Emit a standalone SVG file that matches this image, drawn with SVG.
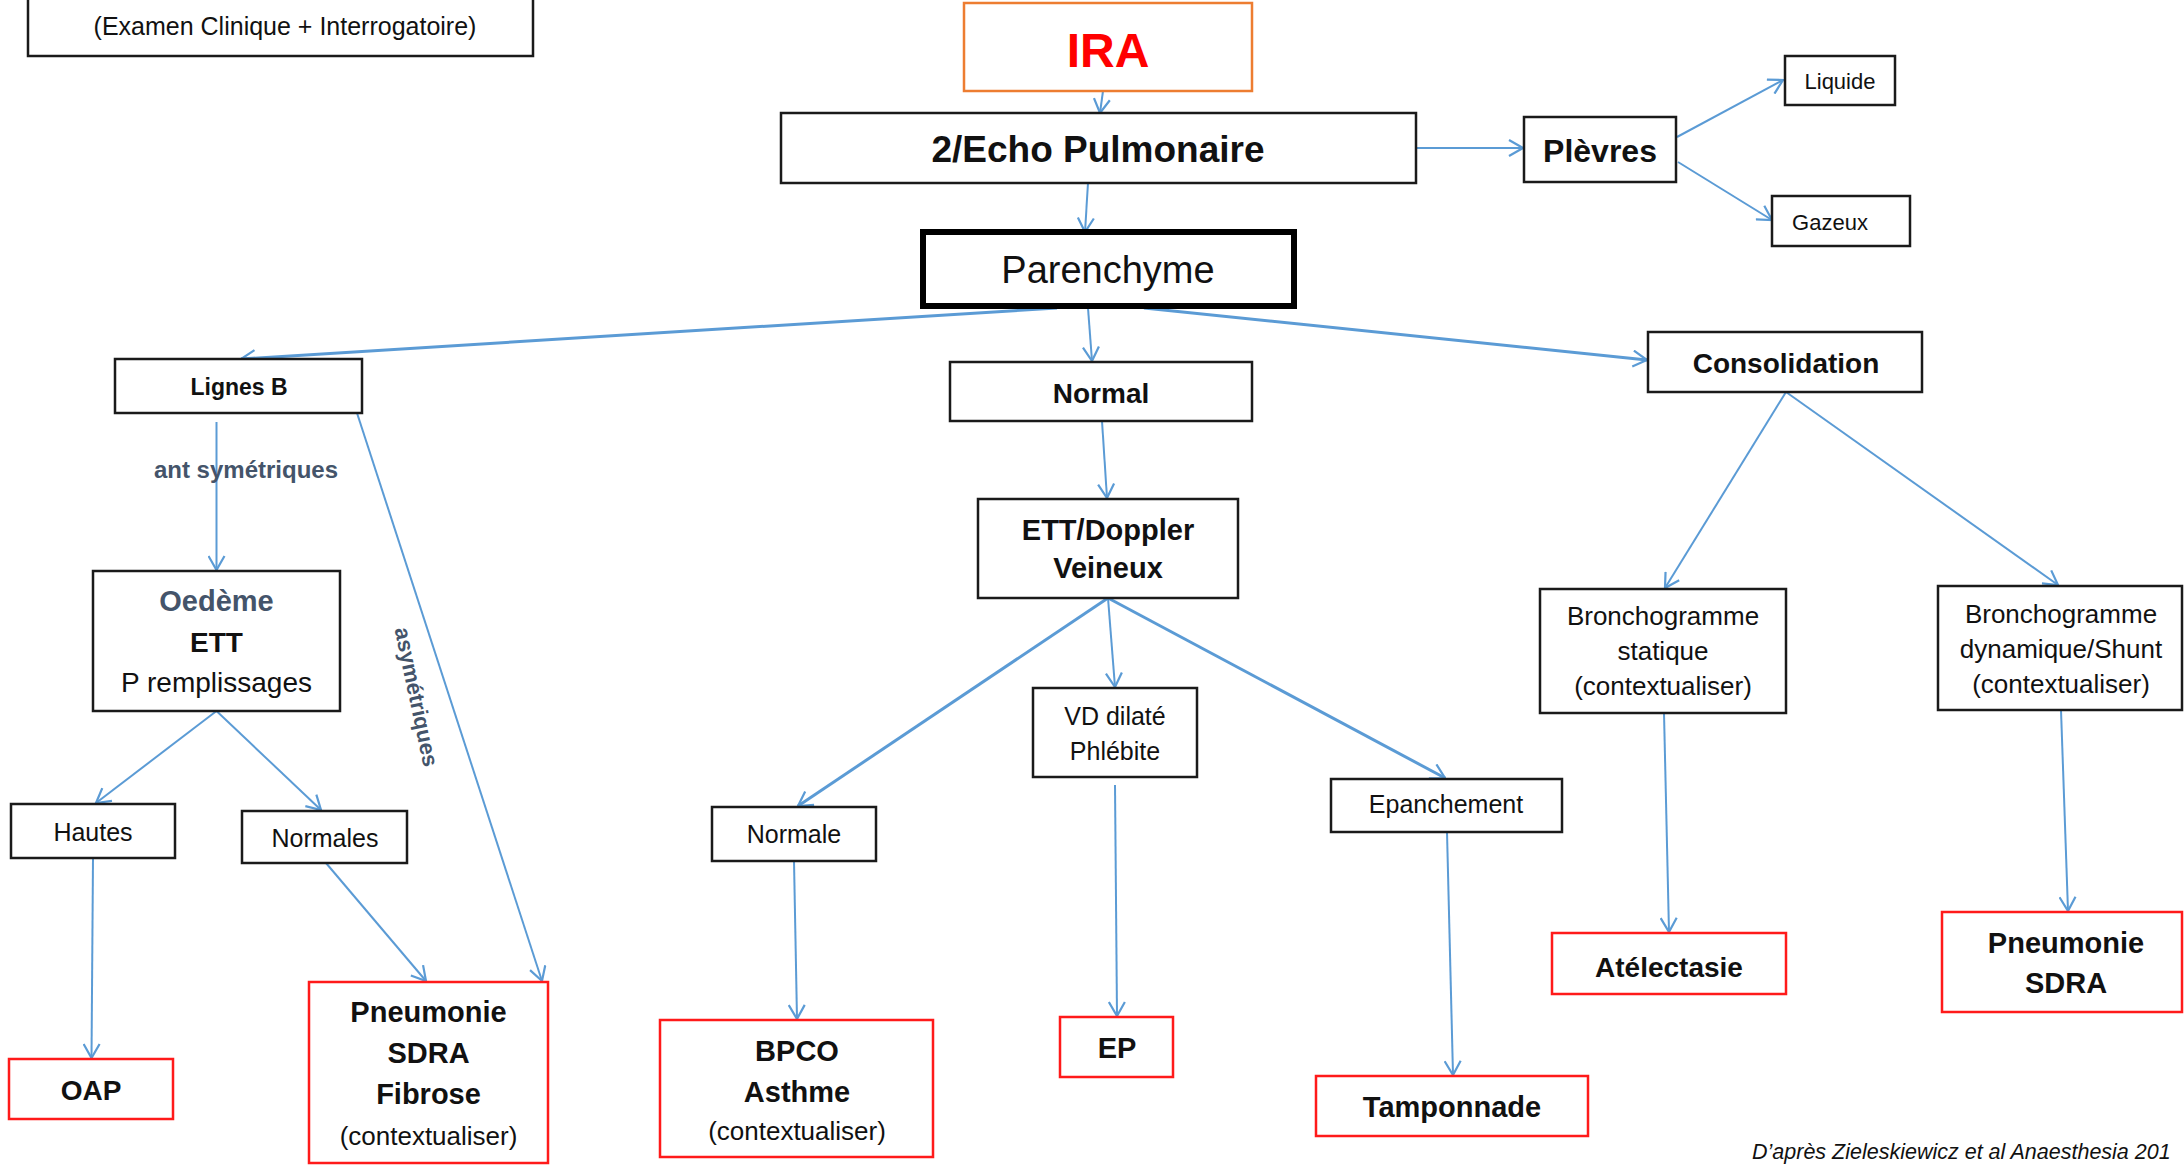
<svg xmlns="http://www.w3.org/2000/svg" width="2184" height="1165" viewBox="0 0 2184 1165">
<defs>
<marker id="arr" viewBox="0 0 16 18" refX="15" refY="9" markerWidth="16" markerHeight="18" markerUnits="userSpaceOnUse" orient="auto">
<path d="M1,1 L15,9 L1,17" fill="none" stroke="#5B9BD5" stroke-width="2.2"/>
</marker>
<style>
text{font-family:"Liberation Sans",Arial,sans-serif;text-anchor:middle;fill:#111}
.b{font-weight:bold}
.box{fill:#fff;stroke:#1a1a1a;stroke-width:2.5}
.red{fill:#fff;stroke:#ff1a1a;stroke-width:2.5}
.lab{font-weight:bold;fill:#44546A}
#connectors line{stroke:#5B9BD5;stroke-width:2;fill:none;marker-end:url(#arr)}
#connectors line.thick{stroke-width:3}
</style>
</defs>
<rect width="2184" height="1165" fill="#fff"/>

<g id="connectors">
<line x1="1103" y1="91" x2="1100" y2="113"/>
<line x1="1088" y1="183" x2="1085" y2="232"/>
<line x1="1416" y1="148" x2="1523" y2="148"/>
<line x1="1677" y1="137" x2="1783" y2="80"/>
<line x1="1678" y1="162" x2="1772" y2="220"/>
<line class="thick" x1="1057" y1="308" x2="241" y2="359"/>
<line x1="1088" y1="308" x2="1092" y2="361"/>
<line class="thick" x1="1144" y1="308" x2="1647" y2="360"/>
<line x1="216.5" y1="422" x2="216.5" y2="570"/>
<line x1="357" y1="413" x2="542" y2="981"/>
<line x1="216.5" y1="711" x2="96" y2="803"/>
<line x1="216.5" y1="711" x2="321" y2="810"/>
<line x1="93" y1="858" x2="91.5" y2="1058"/>
<line x1="326" y1="863" x2="426" y2="981"/>
<line x1="1102" y1="421" x2="1107" y2="498"/>
<line class="thick" x1="1108" y1="598" x2="798" y2="806"/>
<line x1="1108" y1="598" x2="1115" y2="687"/>
<line class="thick" x1="1108" y1="598" x2="1445" y2="778"/>
<line x1="794" y1="861" x2="797" y2="1019"/>
<line x1="1115" y1="785" x2="1117" y2="1016"/>
<line x1="1447" y1="832" x2="1453" y2="1075"/>
<line x1="1786" y1="392" x2="1665" y2="588"/>
<line x1="1786" y1="392" x2="2058" y2="585"/>
<line x1="1664" y1="713" x2="1669" y2="932"/>
<line x1="2061" y1="710" x2="2068" y2="911"/>
</g>

<g id="label-ant">
<text class="lab" x="246" y="478" font-size="24">ant symétriques</text>
</g>
<g id="label-asym">
<text class="lab" font-size="22" transform="translate(416,697) rotate(78)" y="7">asymétriques</text>
</g>

<g id="n-clinique">
<rect class="box" x="28" y="-40" width="505" height="96"/>
<text x="285" y="35" font-size="25">(Examen Clinique + Interrogatoire)</text>
</g>
<g id="n-ira">
<rect x="964" y="3" width="288" height="88" fill="#fff" stroke="#ED7D31" stroke-width="2.5"/>
<text class="b" x="1108" y="67" font-size="48" style="fill:#ff0000">IRA</text>
</g>
<g id="n-echo">
<rect class="box" x="781" y="113" width="635" height="70"/>
<text class="b" x="1098" y="162" font-size="37">2/Echo Pulmonaire</text>
</g>
<g id="n-plevres">
<rect class="box" x="1524" y="117" width="152" height="65"/>
<text class="b" x="1600" y="162" font-size="32">Plèvres</text>
</g>
<g id="n-liquide">
<rect class="box" x="1785" y="56" width="110" height="49"/>
<text x="1840" y="89" font-size="22">Liquide</text>
</g>
<g id="n-gazeux">
<rect class="box" x="1772" y="196" width="138" height="50"/>
<text x="1830" y="230" font-size="22">Gazeux</text>
</g>
<g id="n-parenchyme">
<rect x="923" y="232" width="371" height="74" fill="#fff" stroke="#000" stroke-width="6"/>
<text x="1108" y="283" font-size="38">Parenchyme</text>
</g>
<g id="n-lignesb">
<rect class="box" x="115" y="359" width="247" height="54"/>
<text class="b" x="239" y="395" font-size="23">Lignes B</text>
</g>
<g id="n-normal">
<rect class="box" x="950" y="362" width="302" height="59"/>
<text class="b" x="1101" y="403" font-size="28">Normal</text>
</g>
<g id="n-consolidation">
<rect class="box" x="1648" y="332" width="274" height="60"/>
<text class="b" x="1786" y="373" font-size="28">Consolidation</text>
</g>
<g id="n-oedeme">
<rect class="box" x="93" y="571" width="247" height="140"/>
<text class="b" x="216.5" y="611" font-size="29" style="fill:#44546A">Oedème</text>
<text class="b" x="216.5" y="652" font-size="28">ETT</text>
<text x="216.5" y="692" font-size="28">P remplissages</text>
</g>
<g id="n-hautes">
<rect class="box" x="11" y="804" width="164" height="54"/>
<text x="93" y="841" font-size="25">Hautes</text>
</g>
<g id="n-normales">
<rect class="box" x="242" y="811" width="165" height="52"/>
<text x="325" y="847" font-size="25">Normales</text>
</g>
<g id="n-oap">
<rect class="red" x="9" y="1059" width="164" height="60"/>
<text class="b" x="91" y="1100" font-size="28">OAP</text>
</g>
<g id="n-pneumonie-fibrose">
<rect class="red" x="309" y="982" width="239" height="181"/>
<text class="b" x="428.5" y="1022" font-size="29">Pneumonie</text>
<text class="b" x="428.5" y="1063" font-size="29">SDRA</text>
<text class="b" x="428.5" y="1104" font-size="29">Fibrose</text>
<text x="428.5" y="1145" font-size="26">(contextualiser)</text>
</g>
<g id="n-ettdoppler">
<rect class="box" x="978" y="499" width="260" height="99"/>
<text class="b" x="1108" y="540" font-size="29">ETT/Doppler</text>
<text class="b" x="1108" y="578" font-size="29">Veineux</text>
</g>
<g id="n-normale">
<rect class="box" x="712" y="807" width="164" height="54"/>
<text x="794" y="843" font-size="25">Normale</text>
</g>
<g id="n-vd">
<rect class="box" x="1033" y="688" width="164" height="89"/>
<text x="1115" y="725" font-size="25">VD dilaté</text>
<text x="1115" y="760" font-size="25">Phlébite</text>
</g>
<g id="n-epanchement">
<rect class="box" x="1331" y="779" width="231" height="53"/>
<text x="1446" y="813" font-size="25">Epanchement</text>
</g>
<g id="n-bpco">
<rect class="red" x="660" y="1020" width="273" height="137"/>
<text class="b" x="797" y="1061" font-size="29">BPCO</text>
<text class="b" x="797" y="1102" font-size="29">Asthme</text>
<text x="797" y="1140" font-size="26">(contextualiser)</text>
</g>
<g id="n-ep">
<rect class="red" x="1060" y="1017" width="113" height="60"/>
<text class="b" x="1117" y="1058" font-size="29">EP</text>
</g>
<g id="n-tamponnade">
<rect class="red" x="1316" y="1076" width="272" height="60"/>
<text class="b" x="1452" y="1117" font-size="29">Tamponnade</text>
</g>
<g id="n-bstatique">
<rect class="box" x="1540" y="589" width="246" height="124"/>
<text x="1663" y="625" font-size="26">Bronchogramme</text>
<text x="1663" y="660" font-size="26">statique</text>
<text x="1663" y="695" font-size="26">(contextualiser)</text>
</g>
<g id="n-bdynamique">
<rect class="box" x="1938" y="586" width="244" height="124"/>
<text x="2061" y="623" font-size="26">Bronchogramme</text>
<text x="2061" y="658" font-size="26">dynamique/Shunt</text>
<text x="2061" y="693" font-size="26">(contextualiser)</text>
</g>
<g id="n-atelectasie">
<rect class="red" x="1552" y="933" width="234" height="61"/>
<text class="b" x="1669" y="977" font-size="28">Atélectasie</text>
</g>
<g id="n-pneumonie-sdra">
<rect class="red" x="1942" y="912" width="240" height="100"/>
<text class="b" x="2066" y="953" font-size="29">Pneumonie</text>
<text class="b" x="2066" y="993" font-size="29">SDRA</text>
</g>

<g id="footer">
<text x="1752" y="1159" font-size="21.5" font-style="italic" style="text-anchor:start">D’après Zieleskiewicz et al Anaesthesia 201</text>
</g>
</svg>
